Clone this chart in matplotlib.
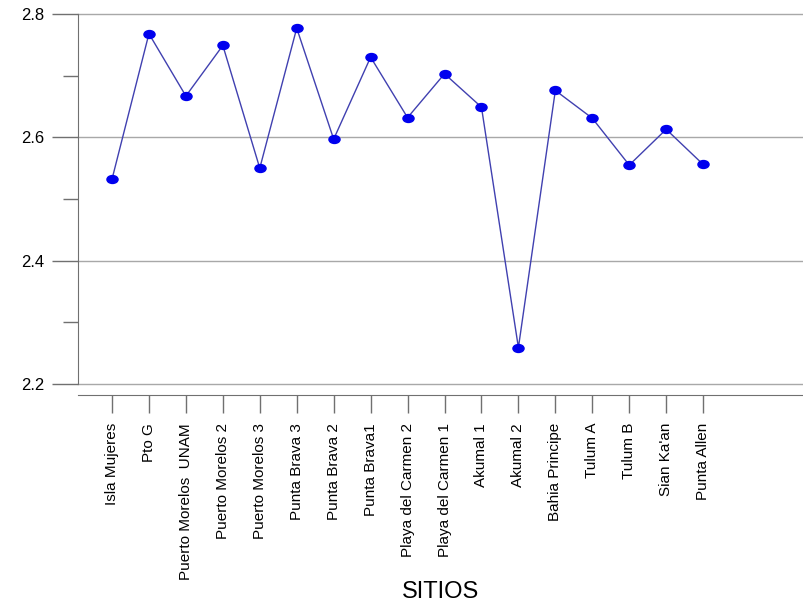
import matplotlib
matplotlib.use('Agg')
import matplotlib.pyplot as plt
from matplotlib.path import Path
from matplotlib.transforms import Affine2D

sitios = ['Isla Mujeres', 'Pto G', 'Puerto Morelos  UNAM', 'Puerto Morelos 2',
          'Puerto Morelos 3', 'Punta Brava 3', 'Punta Brava 2', 'Punta Brava1',
          'Playa del Carmen 2', 'Playa del Carmen 1', 'Akumal 1', 'Akumal 2',
          'Bahia Principe', 'Tulum A', 'Tulum B', "Sian Ka'an", 'Punta Allen']
valores = [2.532, 2.768, 2.667, 2.749, 2.550, 2.777, 2.597, 2.730,
           2.632, 2.703, 2.649, 2.259, 2.676, 2.631, 2.555, 2.613, 2.556]

plt.rcParams['font.family'] = ['Liberation Sans', 'DejaVu Sans']

fig = plt.figure(figsize=(8.04, 6.09), dpi=100)
ax = fig.add_axes([78/804, 1-384/609, 1-78/804, 370/609])

# ellipse marker (the original is stretched horizontally)
elipse = Path.unit_circle().transformed(Affine2D().scale(1.4, 1.0))

xs = list(range(len(sitios)))
ax.plot(xs, valores, '-', color='#4040b0', lw=1.0, zorder=3)
ax.plot(xs, valores, linestyle='none', marker=elipse, markersize=8,
        color='#0000ee', zorder=4)

ax.set_xlim(-0.92, 18.73)
ax.set_ylim(2.2, 2.8)
ax.set_yticks([2.2, 2.4, 2.6, 2.8])
ax.set_yticks([2.3, 2.5, 2.7], minor=True)
ax.set_yticklabels(['2.2', '2.4', '2.6', '2.8'])
ax.set_xticks(xs)
ax.set_xticklabels(sitios)

ax.yaxis.grid(True, color='#a8a8a8', lw=1.0)
ax.set_axisbelow(True)
for gl in ax.get_ygridlines():
    gl.set_clip_on(False)

for s in ['top', 'right']:
    ax.spines[s].set_visible(False)
ax.spines['left'].set_color('#707070')
ax.spines['bottom'].set_color('#707070')
ax.spines['bottom'].set_position(('outward', 8))

ax.tick_params(axis='y', which='major', length=19, width=1, color='#707070',
               pad=5, labelsize=12)
ax.tick_params(axis='y', which='minor', length=11, width=1, color='#707070')
ax.tick_params(axis='x', length=13, width=1, color='#707070', pad=7,
               labelrotation=90, labelsize=11)

fig.text(441/804, 1-592/609, 'SITIOS', fontsize=17, ha='center', va='center')

plt.savefig('out.png', dpi=100)
